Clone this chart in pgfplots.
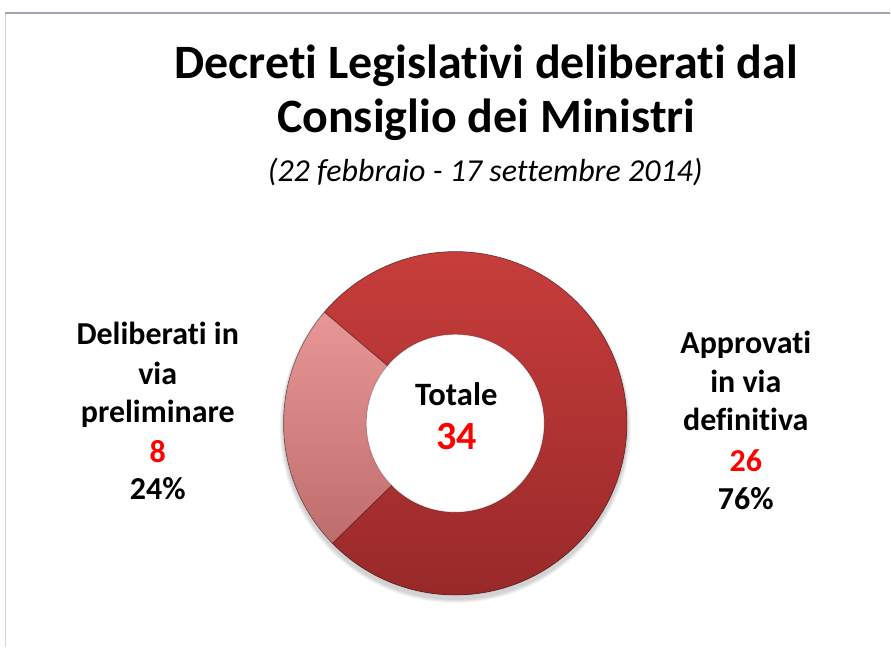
\documentclass[border=0pt]{standalone}
\usepackage{pgfplots}
\pgfplotsset{compat=1.18}
\usepackage{pgfplotstable}
\usetikzlibrary{calc}
\usepackage{fontspec}
\setmainfont{Carlito}[Ligatures={NoCommon}]
\definecolor{mainTop}{RGB}{200,62,60}
\definecolor{mainBot}{RGB}{150,40,40}
\definecolor{liteTop}{RGB}{232,150,150}
\definecolor{liteBot}{RGB}{190,108,108}
\definecolor{frameTop}{RGB}{160,164,174}
\definecolor{frameLeft}{RGB}{205,213,228}
\definecolor{numred}{RGB}{255,0,0}
\pgfplotstableread{
label value
Deliberati 8
Approvati 26
}\donutdata
\pgfplotstablegetelem{0}{value}\of\donutdata \xdef\va{\pgfplotsretval}
\pgfplotstablegetelem{1}{value}\of\donutdata \xdef\vb{\pgfplotsretval}
\pgfmathsetmacro\tot{\va+\vb}
\pgfmathsetmacro\angA{\va/\tot*360}
\pgfmathsetmacro\sA{182-\angA/2}
\pgfmathsetmacro\eA{182+\angA/2}
\pgfmathsetmacro\eB{\sA+360}
\def\Ro{129pt}
\def\Ri{66.75pt}
\begin{document}
\begin{tikzpicture}
\begin{axis}[
  x=0.75pt, y=0.75pt,
  xmin=0, xmax=891, ymin=0, ymax=648,
  hide axis, scale only axis, clip=false,
]
% background
\fill[white] (axis cs:0,0) rectangle (axis cs:891,648);
% frame
\draw[frameLeft, line width=0.9pt] (axis cs:5.5,0) -- (axis cs:5.5,635);
\draw[frameTop, line width=2.2pt] (axis cs:5,635) -- (axis cs:891,635);
\coordinate (c) at (axis cs:456,224);
% shadow
\fill[black, opacity=0.035] ($(c)+(0,-3pt)$) circle[radius=129.6pt];
\fill[black, opacity=0.035] ($(c)+(0,-3pt)$) circle[radius=130.2pt];
\fill[black, opacity=0.035] ($(c)+(0,-3pt)$) circle[radius=130.8pt];
\fill[black, opacity=0.035] ($(c)+(0,-3pt)$) circle[radius=131.4pt];
\fill[black, opacity=0.035] ($(c)+(0,-3pt)$) circle[radius=132pt];
% main slice
\fill[top color=mainTop, bottom color=mainBot]
  ($(c)+(\eA:\Ro)$) arc[start angle=\eA, end angle=\eB, radius=\Ro]
  -- ($(c)+(\eB:\Ri)$) arc[start angle=\eB, end angle=\eA, radius=\Ri] -- cycle;
% light slice
\fill[top color=liteTop, bottom color=liteBot]
  ($(c)+(\sA:\Ro)$) arc[start angle=\sA, end angle=\eA, radius=\Ro]
  -- ($(c)+(\eA:\Ri)$) arc[start angle=\eA, end angle=\sA, radius=\Ri] -- cycle;
% hole
\fill[white] (c) circle[radius=\Ri];
% edges
\draw[black!45!mainBot, opacity=0.6, line width=0.6pt] ($(c)+(\sA:\Ri)$) -- ($(c)+(\sA:\Ro)$);
\draw[black!45!mainBot, opacity=0.6, line width=0.6pt] ($(c)+(\eA:\Ri)$) -- ($(c)+(\eA:\Ro)$);
\draw[black, opacity=0.22, line width=0.8pt] (c) circle[radius=\Ro];
\draw[black, opacity=0.12, line width=1pt] (c) circle[radius=\Ri];
% title
\node[anchor=base, font=\bfseries\fontsize{36}{40}\selectfont] at (axis cs:487,569) {Decreti Legislativi deliberati dal};
\node[anchor=base, font=\bfseries\fontsize{36}{40}\selectfont] at (axis cs:487,515) {Consiglio dei Ministri};
\node[anchor=base, font=\itshape\fontsize{24}{28}\selectfont] at (axis cs:486,466) {(22 febbraio - 17 settembre 2014)};
% centre
\node[anchor=base, font=\bfseries\fontsize{24.5}{28}\selectfont] at (axis cs:457,242) {Totale};
\node[anchor=base, font=\bfseries\fontsize{30}{34}\selectfont, text=numred] at (axis cs:457,198) {34};
% labels
\begin{scope}[every node/.style={anchor=base, font=\bfseries\fontsize{24}{28}\selectfont}]
\node at (axis cs:158,303) {Deliberati in};
\node at (axis cs:158,263) {via};
\node at (axis cs:158,225) {preliminare};
\node[text=numred] at (axis cs:158,185) {8};
\node at (axis cs:158,148) {24\%};
\node at (axis cs:747,294) {Approvati};
\node at (axis cs:747,255) {in via};
\node at (axis cs:747,217) {definitiva};
\node[text=numred] at (axis cs:747,176) {26};
\node at (axis cs:747,138) {76\%};
\end{scope}
\end{axis}
\end{tikzpicture}
\end{document}
